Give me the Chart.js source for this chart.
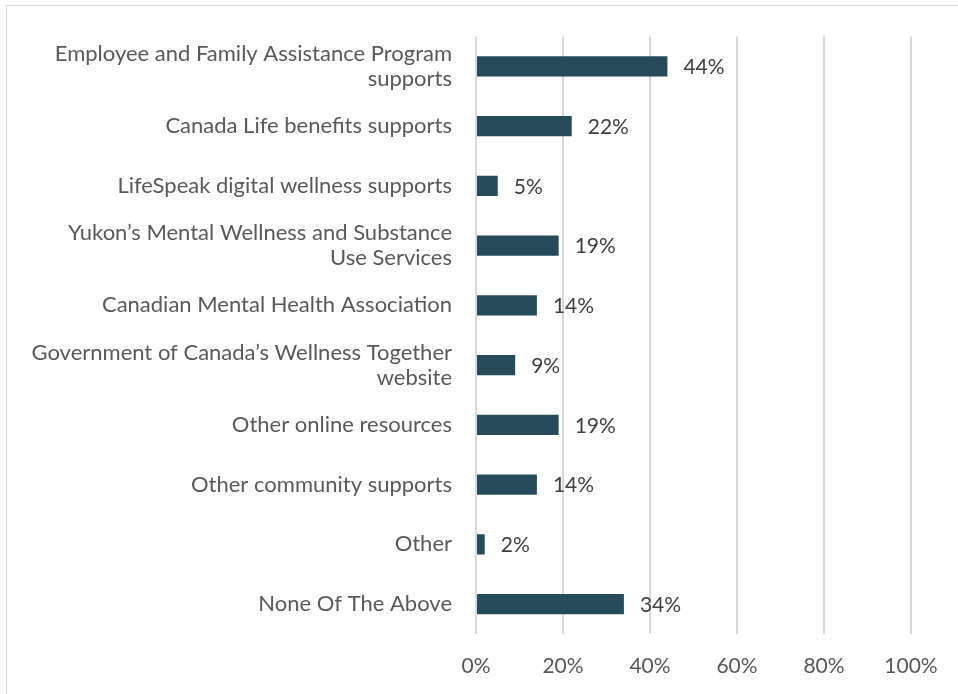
<!DOCTYPE html>
<html>
<head>
<meta charset="utf-8">
<script src="https://cdn.jsdelivr.net/npm/chart.js@4/dist/chart.umd.min.js"></script>
<style>
  html, body { margin: 0; padding: 0; background: #fff; }
  #wrap { position: relative; width: 958px; height: 694px; }
  #frame { position: absolute; left: 6px; top: 5px; width: 1000px; height: 1000px; border: 1px solid #d9d9d9; box-sizing: border-box; }
  canvas { position: absolute; left: 0; top: 0; }
</style>
</head>
<body>
<div id="wrap">
  <div id="frame"></div>
  <canvas id="supportsChart" width="958" height="694"></canvas>
</div>
<script>
// categories (wrapped as in the picture)
const categories = [
    ['Employee and Family Assistance Program', 'supports'],
    'Canada Life benefits supports',
    'LifeSpeak digital wellness supports',
    ['Yukon\u2019s Mental Wellness and Substance', 'Use Services'],
    'Canadian Mental Health Association',
    ['Government of Canada\u2019s Wellness Together', 'website'],
    'Other online resources',
    'Other community supports',
    'Other',
    'None Of The Above'
];

// share of respondents (%)
const shares = [44, 22, 5, 19, 14, 9, 19, 14, 2, 34];

const xTicks = [0, 20, 40, 60, 80, 100];

const FONT = 'Lato, "Open Sans", sans-serif';

// Labels drawn to the right of each bar
const valueLabels = {
    id: 'valueLabels',
    afterDatasetsDraw(chart) {
        const ctx = chart.ctx;
        const meta = chart.getDatasetMeta(0);
        ctx.save();
        ctx.font = '21px ' + FONT;
        ctx.fillStyle = '#404040';
        ctx.textAlign = 'left';
        ctx.textBaseline = 'middle';
        meta.data.forEach((bar, i) => {
            ctx.fillText(shares[i] + '%', bar.x + 16, bar.y + 1);
        });
        ctx.restore();
    }
};

const ctx = document.getElementById('supportsChart');
new Chart(ctx.getContext('2d'), {
    type: 'bar',
    data: {
        labels: categories,
        datasets: [{
            data: shares,
            backgroundColor: '#264b5a',
            borderWidth: 0,
            categoryPercentage: 1,
            barPercentage: 0.34
        }]
    },
    options: {
        indexAxis: 'y',
        responsive: false,
        animation: false,
        layout: {
            padding: { left: 0, right: 47, top: 34, bottom: 0 }
        },
        plugins: {
            legend: { display: false },
            tooltip: { enabled: false }
        },
        scales: {
            x: {
                min: 0,
                max: 100,
                afterBuildTicks: (scale) => {
                    scale.ticks = xTicks.map(v => ({ value: v }));
                },
                afterFit: (scale) => { scale.height = 60; },
                border: { display: false },
                grid: {
                    color: '#d9d9d9',
                    lineWidth: 2,
                    drawTicks: false
                },
                ticks: {
                    padding: 20,
                    color: '#595959',
                    font: { family: FONT, size: 21 },
                    callback: (v) => v + '%'
                }
            },
            y: {
                afterFit: (scale) => { scale.width = 476; },
                border: { display: false },
                grid: { display: false, drawTicks: false },
                ticks: {
                    padding: 24,
                    color: '#595959',
                    font: { family: FONT, size: 22, lineHeight: 1.14 }
                }
            }
        }
    },
    plugins: [valueLabels]
});
</script>
</body>
</html>
